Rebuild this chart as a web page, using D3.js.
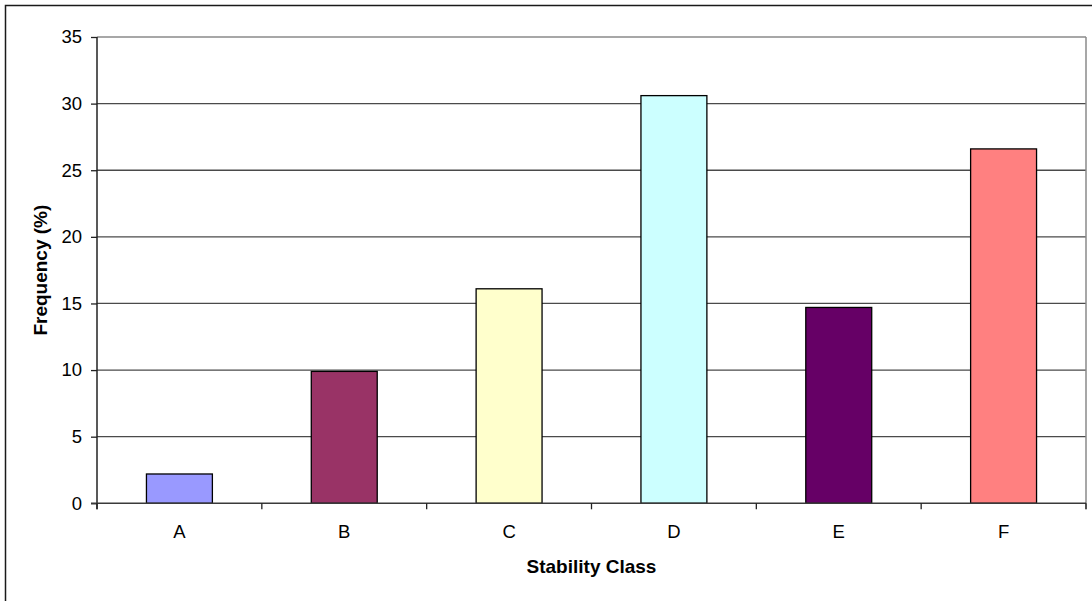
<!DOCTYPE html>
<html>
<head>
<meta charset="utf-8">
<script src="https://cdn.jsdelivr.net/npm/d3@7"></script>
<style>
  html, body { margin: 0; padding: 0; background: #fff; }
  svg { display: block; font-family: "Liberation Sans", Arial, sans-serif; }
</style>
</head>
<body>
<svg id="chart" width="1092" height="601"></svg>
<script>
// Frequency of atmospheric stability classes
const categories = ["A", "B", "C", "D", "E", "F"];
const frequency = [2.2, 9.9, 16.1, 30.6, 14.7, 26.6];
const barColors = ["#9999FF", "#993366", "#FFFFCC", "#CCFFFF", "#660066", "#FF8080"];
const yTicks = [0, 5, 10, 15, 20, 25, 30, 35];
const xTitle = "Stability Class";
const yTitle = "Frequency (%)";

const svg = d3.select("#chart");
const W = 1092, H = 601;
const plot = { left: 97, top: 37, right: 1086, bottom: 503.3 };

// chart frame
svg.append("rect")
  .attr("x", 5.5).attr("y", 5.5)
  .attr("width", W + 20).attr("height", H + 20)
  .attr("fill", "#fff").attr("stroke", "#1a1a1a").attr("stroke-width", 1.5);

const x = d3.scaleBand()
  .domain(categories)
  .range([plot.left, plot.right])
  .paddingInner(0.6)
  .paddingOuter(0.3);

const xBand = d3.scaleBand()
  .domain(categories)
  .range([plot.left, plot.right]);

const y = d3.scaleLinear()
  .domain([0, 35])
  .range([plot.bottom, plot.top]);

// horizontal gridlines
svg.append("g")
  .selectAll("line")
  .data(yTicks.filter(d => d > 0))
  .join("line")
  .attr("x1", plot.left).attr("x2", plot.right)
  .attr("y1", d => y(d)).attr("y2", d => y(d))
  .attr("stroke", d => d === 35 ? "#8a8a8a" : "#4a4a4a")
  .attr("stroke-width", 1.3);

// plot area right edge
svg.append("line")
  .attr("x1", plot.right).attr("x2", plot.right)
  .attr("y1", plot.top).attr("y2", plot.bottom + 6)
  .attr("stroke", "#8a8a8a").attr("stroke-width", 1.5);

// bars
svg.append("g")
  .selectAll("rect")
  .data(categories.map((c, i) => ({ c, v: frequency[i], color: barColors[i] })))
  .join("rect")
  .attr("x", d => x(d.c))
  .attr("y", d => y(d.v))
  .attr("width", x.bandwidth())
  .attr("height", d => y(0) - y(d.v))
  .attr("fill", d => d.color)
  .attr("stroke", "#000")
  .attr("stroke-width", 1.3);

// y axis
const yAxis = svg.append("g")
  .attr("transform", `translate(${plot.left},0)`)
  .call(d3.axisLeft(y).tickValues(yTicks).tickSize(6).tickPadding(9).tickSizeOuter(0));
yAxis.select(".domain").attr("stroke", "#222").attr("stroke-width", 1.5)
  .attr("d", `M0,${plot.top}V${plot.bottom + 6}`);
yAxis.selectAll(".tick line").attr("stroke", "#222").attr("stroke-width", 1.3);
yAxis.selectAll(".tick text")
  .attr("fill", "#000")
  .style("font-size", "18.5px")
  .style("font-family", "'Liberation Sans', Arial, sans-serif");

// x axis: ticks sit on category boundaries
const xAxis = svg.append("g")
  .attr("transform", `translate(0,${plot.bottom})`);
xAxis.append("line")
  .attr("x1", plot.left - 6).attr("x2", plot.right)
  .attr("stroke", "#3a3a3a").attr("stroke-width", 1.5);
xAxis.selectAll("line.tick")
  .data(categories.map(c => xBand(c)).concat([plot.right]))
  .join("line")
  .attr("class", "tick")
  .attr("x1", d => d).attr("x2", d => d)
  .attr("y1", 0).attr("y2", 6)
  .attr("stroke", "#222").attr("stroke-width", 1.3);
xAxis.selectAll("text")
  .data(categories)
  .join("text")
  .attr("x", d => xBand(d) + xBand.bandwidth() / 2)
  .attr("y", 34.5)
  .attr("text-anchor", "middle")
  .style("font-size", "18.5px")
  .text(d => d);

// axis titles
svg.append("text")
  .attr("x", (plot.left + plot.right) / 2)
  .attr("y", 573)
  .attr("text-anchor", "middle")
  .style("font-size", "19px")
  .style("font-weight", "bold")
  .text(xTitle);

svg.append("text")
  .attr("transform", `translate(47,${(plot.top + plot.bottom) / 2}) rotate(-90)`)
  .attr("text-anchor", "middle")
  .style("font-size", "19px")
  .style("font-weight", "bold")
  .text(yTitle);
</script>
</body>
</html>
